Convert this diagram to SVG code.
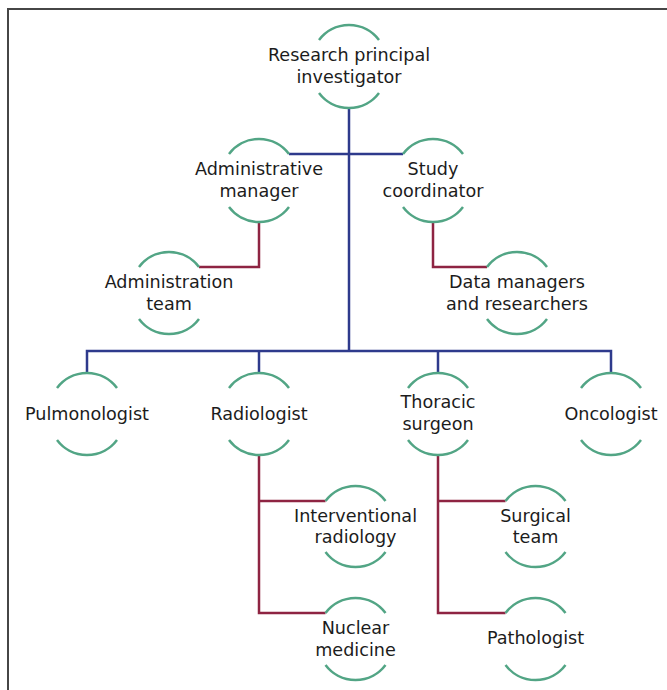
<svg xmlns="http://www.w3.org/2000/svg" width="667" height="690" viewBox="0 0 667 690">
<defs>
<style>
.arc{fill:none;stroke:#52a585;stroke-width:2.5}
.blue{fill:none;stroke:#2e3a8c;stroke-width:2.5}
.red{fill:none;stroke:#8e2442;stroke-width:2.5}
text{font-family:"DejaVu Sans","Liberation Sans",sans-serif;font-size:17.6px;fill:#1c1c1c;text-anchor:middle}
</style>
</defs>
<rect width="667" height="690" fill="#ffffff"/>
<path d="M8,690 V9 H667" fill="none" stroke="#464646" stroke-width="2"/>
<g id="connectors">
<path class="blue" d="M349,108 V351"/>
<path class="blue" d="M289,154 H403"/>
<path class="blue" d="M87,373 V351 H611 V373"/>
<path class="blue" d="M259,351 V373"/>
<path class="blue" d="M438,351 V373"/>
<path class="red" d="M259,222 V267 H199"/>
<path class="red" d="M433,222 V267 H487"/>
<path class="red" d="M259,455 V613 H325.5"/>
<path class="red" d="M259,501 H325.5"/>
<path class="red" d="M438,455 V613 H505.5"/>
<path class="red" d="M438,501 H505.5"/>
</g>
<g id="research-principal-investigator">
<path class="arc" d="M319,40 A37.5,37.5 0 0 1 379,40"/>
<path class="arc" d="M319,93 A37.5,37.5 0 0 0 379,93"/>
<text x="349" y="61">Research principal</text>
<text x="349" y="83">investigator</text>
</g>
<g id="administrative-manager">
<path class="arc" d="M229,154 A37.5,37.5 0 0 1 289,154"/>
<path class="arc" d="M229,207 A37.5,37.5 0 0 0 289,207"/>
<text x="259" y="175">Administrative</text>
<text x="259" y="197">manager</text>
</g>
<g id="study-coordinator">
<path class="arc" d="M403,154 A37.5,37.5 0 0 1 463,154"/>
<path class="arc" d="M403,207 A37.5,37.5 0 0 0 463,207"/>
<text x="433" y="175">Study</text>
<text x="433" y="197">coordinator</text>
</g>
<g id="administration-team">
<path class="arc" d="M139,267 A37.5,37.5 0 0 1 199,267"/>
<path class="arc" d="M139,319 A37.5,37.5 0 0 0 199,319"/>
<text x="169" y="288">Administration</text>
<text x="169" y="310">team</text>
</g>
<g id="data-managers">
<path class="arc" d="M487,267 A37.5,37.5 0 0 1 547,267"/>
<path class="arc" d="M487,319 A37.5,37.5 0 0 0 547,319"/>
<text x="517" y="288">Data managers</text>
<text x="517" y="310">and researchers</text>
</g>
<g id="pulmonologist">
<path class="arc" d="M57,388 A37.5,37.5 0 0 1 117,388"/>
<path class="arc" d="M57,440 A37.5,37.5 0 0 0 117,440"/>
<text x="87" y="420">Pulmonologist</text>
</g>
<g id="radiologist">
<path class="arc" d="M229,388 A37.5,37.5 0 0 1 289,388"/>
<path class="arc" d="M229,440 A37.5,37.5 0 0 0 289,440"/>
<text x="259" y="420">Radiologist</text>
</g>
<g id="thoracic-surgeon">
<path class="arc" d="M408,388 A37.5,37.5 0 0 1 468,388"/>
<path class="arc" d="M408,440 A37.5,37.5 0 0 0 468,440"/>
<text x="438" y="408">Thoracic</text>
<text x="438" y="430">surgeon</text>
</g>
<g id="oncologist">
<path class="arc" d="M581,388 A37.5,37.5 0 0 1 641,388"/>
<path class="arc" d="M581,440 A37.5,37.5 0 0 0 641,440"/>
<text x="611" y="420">Oncologist</text>
</g>
<g id="interventional-radiology">
<path class="arc" d="M325.5,501 A37.5,37.5 0 0 1 385.5,501"/>
<path class="arc" d="M325.5,552 A37.5,37.5 0 0 0 385.5,552"/>
<text x="355.5" y="522">Interventional</text>
<text x="355.5" y="543">radiology</text>
</g>
<g id="nuclear-medicine">
<path class="arc" d="M325.5,613 A37.5,37.5 0 0 1 385.5,613"/>
<path class="arc" d="M325.5,665 A37.5,37.5 0 0 0 385.5,665"/>
<text x="355.5" y="634">Nuclear</text>
<text x="355.5" y="656">medicine</text>
</g>
<g id="surgical-team">
<path class="arc" d="M505.5,501 A37.5,37.5 0 0 1 565.5,501"/>
<path class="arc" d="M505.5,552 A37.5,37.5 0 0 0 565.5,552"/>
<text x="535.5" y="522">Surgical</text>
<text x="535.5" y="543">team</text>
</g>
<g id="pathologist">
<path class="arc" d="M505.5,613 A37.5,37.5 0 0 1 565.5,613"/>
<path class="arc" d="M505.5,665 A37.5,37.5 0 0 0 565.5,665"/>
<text x="535.5" y="644">Pathologist</text>
</g>
</svg>
